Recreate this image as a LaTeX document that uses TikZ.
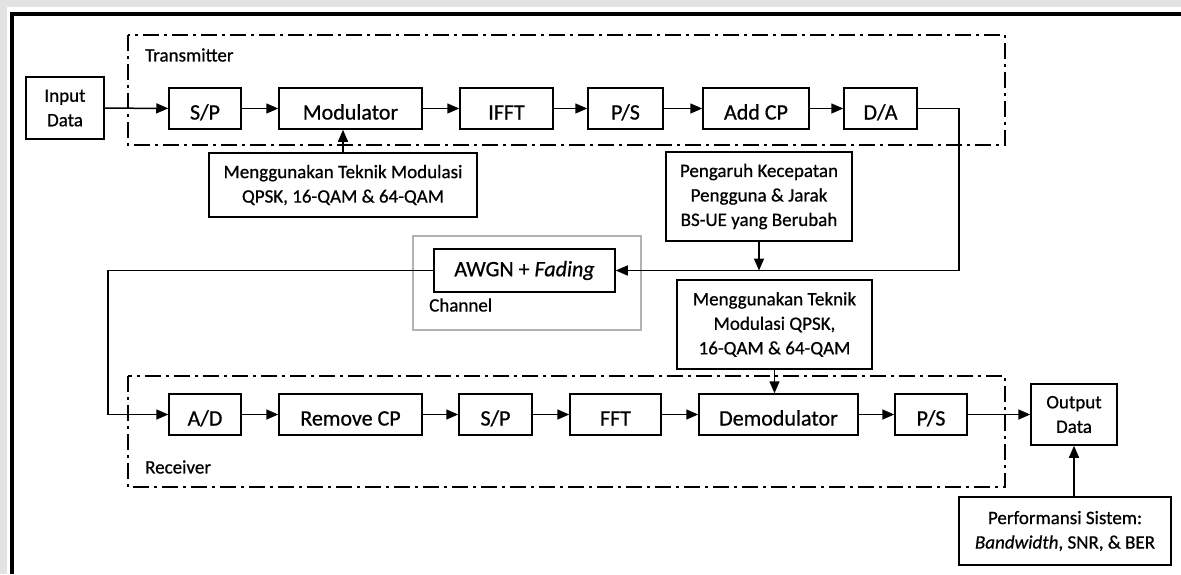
\documentclass[tikz,border=0pt]{standalone}
\usepackage{fontspec}
\setmainfont{Carlito}[FakeBold=0.7]
\usetikzlibrary{arrows.meta}

\tikzset{
  blockbox/.style={draw, line width=1.5pt, inner sep=0pt, align=center,
    font=\fontsize{22}{26}\selectfont},
  rowbox/.style={blockbox, minimum height=41pt, text height=22pt, text depth=0pt},
  notebox/.style={draw, line width=1.5pt, inner sep=0pt, align=center,
    font=\fontsize{19}{24.5}\selectfont},
  grouplabel/.style={anchor=west, inner sep=0pt, font=\fontsize{19}{22}\selectfont},
  groupframe/.style={line width=1.3pt, dash pattern=on 16pt off 5pt on 3pt off 5pt},
  flow/.style={line width=1.5pt, -{Triangle[length=12pt,width=10pt]}}
}

\begin{document}
\begin{tikzpicture}[x=1pt, y=-1pt]
\useasboundingbox (0,0) rectangle (1181,574);

% page surround and outer frame
\fill[gray!22] (0,0) rectangle (1181,574);
\fill[white] (7,7) rectangle (1181,574);
\draw[line width=4pt] (12,574) -- (12,14) -- (1181,14);

% transmitter and receiver groups
\draw[groupframe] (128,35) rectangle (1005,145);
\node[grouplabel] (txlabel) at (145,55) {Transmitter};
\draw[groupframe] (128,376) rectangle (1005,487);
\node[grouplabel] (rxlabel) at (145,467) {Receiver};

% channel group
\draw[line width=1.5pt, gray!60] (413,236) rectangle (641,330);
\node[grouplabel] (chlabel) at (429,305) {Channel};

% transmitter chain
\node[notebox, minimum width=78pt, minimum height=62pt] (in) at (65,108) {Input\\Data};
\node[rowbox, minimum width=72pt] (sp1) at (205,108.5) {S/P};
\node[rowbox, minimum width=143pt] (mod) at (350.5,108.5) {Modulator};
\node[rowbox, minimum width=93pt] (ifft) at (506.5,108.5) {IFFT};
\node[rowbox, minimum width=75pt] (ps1) at (625.5,108.5) {P/S};
\node[rowbox, minimum width=106pt] (addcp) at (756,108.5) {Add CP};
\node[rowbox, minimum width=73pt] (da) at (880.5,108.5) {D/A};

\node[notebox, minimum width=268pt, minimum height=64pt] (modnote) at (343,185)
  {Menggunakan Teknik Modulasi\\QPSK, 16-QAM \& 64-QAM};
\node[notebox, minimum width=186pt, minimum height=89pt] (speed) at (759,196.5)
  {Pengaruh Kecepatan\\Pengguna \& Jarak\\BS-UE yang Berubah};

% channel
\node[blockbox, minimum width=181pt, minimum height=43pt] (awgn) at (524.5,270.5) {AWGN + \textit{Fading}};

% receiver chain
\node[notebox, minimum width=195pt, minimum height=89pt] (demodnote) at (774.5,324.5)
  {Menggunakan Teknik\\Modulasi QPSK,\\16-QAM \& 64-QAM};
\node[rowbox, minimum width=72pt] (ad) at (205,414.5) {A/D};
\node[rowbox, minimum width=143pt] (rcp) at (350.5,414.5) {Remove CP};
\node[rowbox, minimum width=73pt] (sp2) at (495.5,414.5) {S/P};
\node[rowbox, minimum width=91pt] (fft) at (615.5,414.5) {FFT};
\node[rowbox, minimum width=159pt] (demod) at (778.5,414.5) {Demodulator};
\node[rowbox, minimum width=72pt] (ps2) at (931,414.5) {P/S};
\node[notebox, minimum width=86pt, minimum height=61pt] (out) at (1074,414.5) {Output\\Data};
\node[notebox, minimum width=212pt, minimum height=68pt] (perf) at (1065,531)
  {Performansi Sistem:\\\textit{Bandwidth}, SNR, \& BER};

% transmitter connections
\draw[flow] (in) -- (sp1);
\draw[flow] (sp1) -- (mod);
\draw[flow] (mod) -- (ifft);
\draw[flow] (ifft) -- (ps1);
\draw[flow] (ps1) -- (addcp);
\draw[flow] (addcp) -- (da);
\draw[flow] (modnote.north) -- (modnote.north |- mod.south);

% into and out of the channel
\coordinate (daturn) at (959,108.5);
\draw[flow] (da.east) -- (daturn) |- (awgn.east);
\draw[flow] (speed.south) -- (speed.south |- awgn.east);
\coordinate (rxturn) at (108,270.5);
\draw[flow] (awgn.west) -- (rxturn) |- (ad.west);

% receiver connections
\draw[flow] (ad) -- (rcp);
\draw[flow] (rcp) -- (sp2);
\draw[flow] (sp2) -- (fft);
\draw[flow] (fft) -- (demod);
\draw[flow] (demod) -- (ps2);
\draw[flow] (ps2) -- (out);
\draw[flow] (demodnote.south) -- (demodnote.south |- demod.north);
\draw[flow] (out.south |- perf.north) -- (out.south);
\end{tikzpicture}
\end{document}
